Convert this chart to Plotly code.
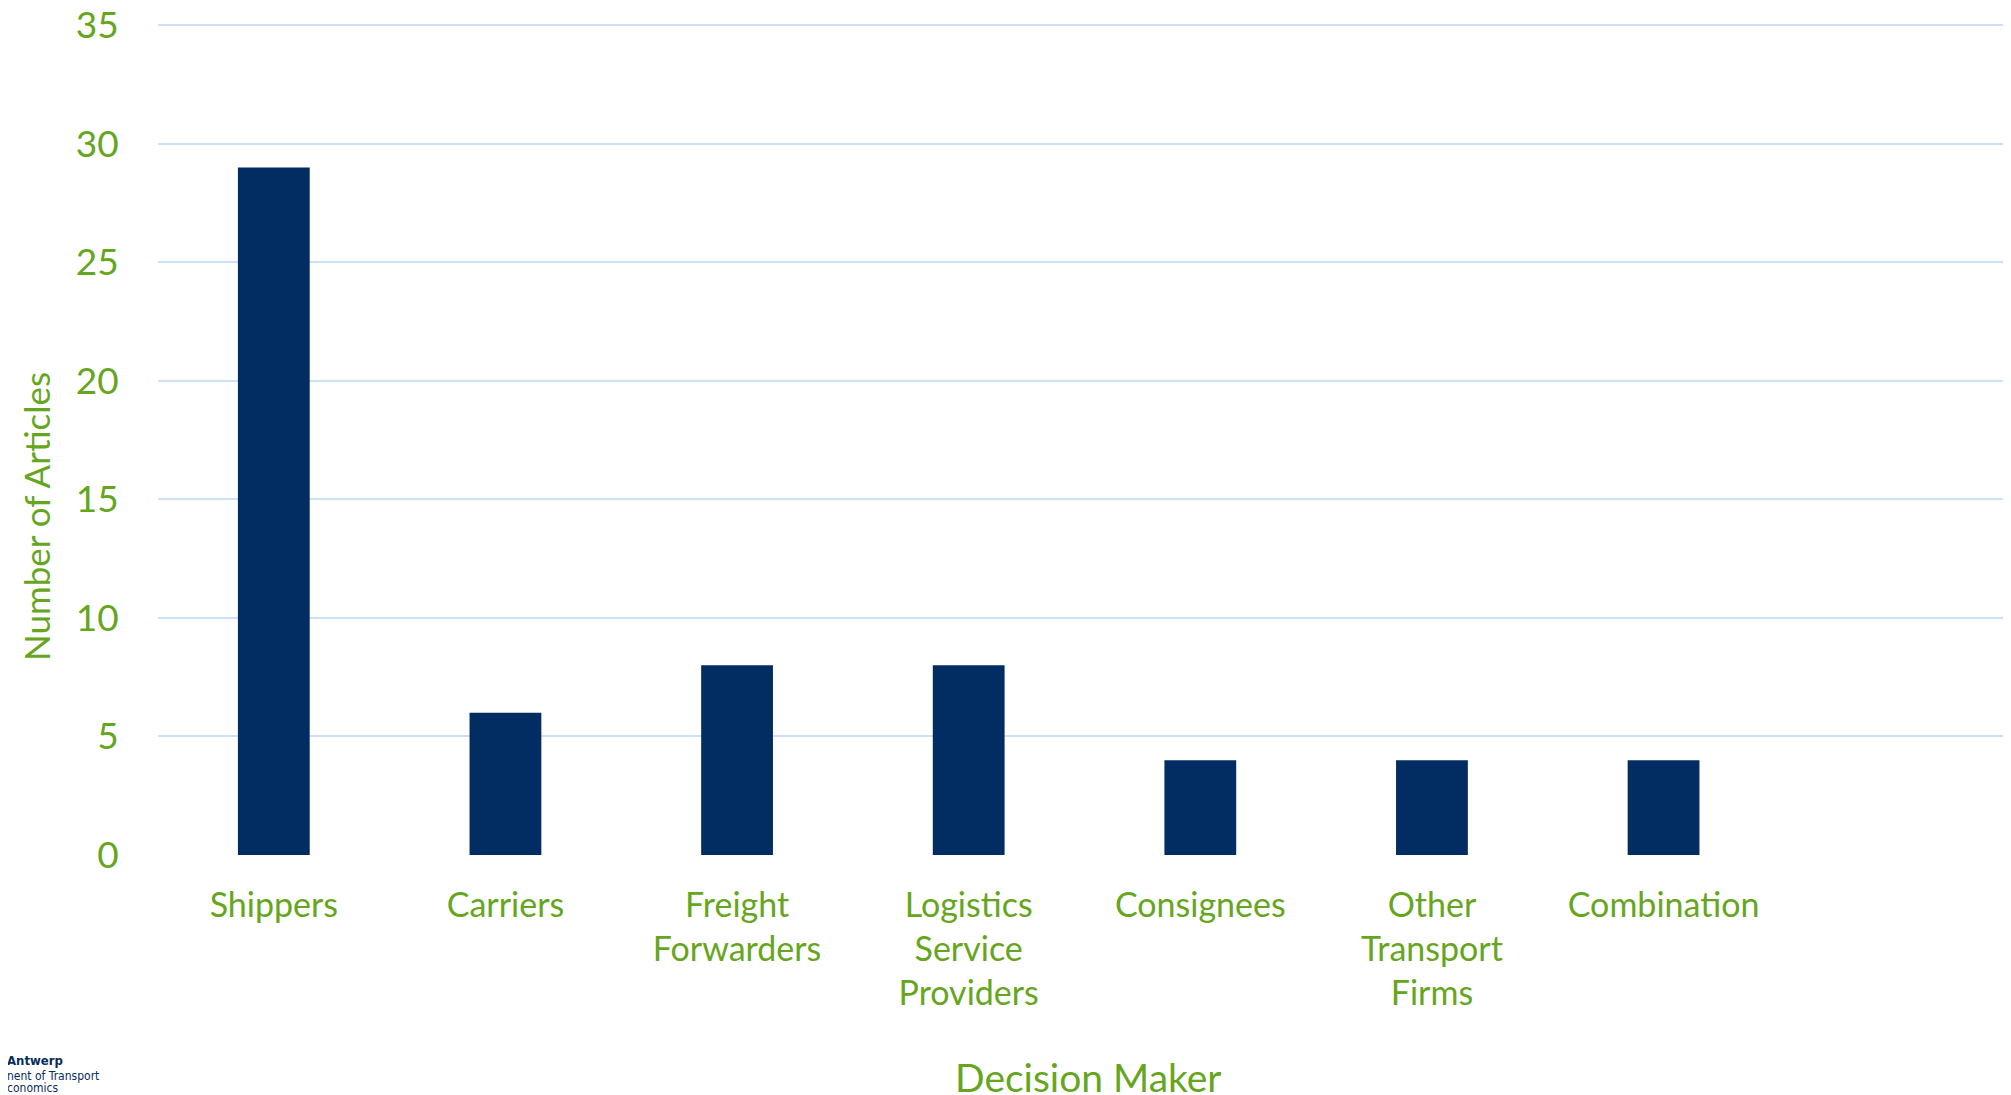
import plotly.graph_objects as go

categories = ["Shippers", "Carriers", "Freight<br>Forwarders", "Logistics<br>Service<br>Providers",
              "Consignees", "Other<br>Transport<br>Firms", "Combination"]
values = [29, 6, 8, 8, 4, 4, 4]
y_ticks = [0, 5, 10, 15, 20, 25, 30, 35]

GREEN = "#66A61E"
BAR = "#022D62"
GRID = "#CCE0F7"
FONT = "Lato"

W, H = 2003, 1087
L, T, B = 150, 10, 240
PW = W - L
PH = H - T - B

fig = go.Figure(go.Bar(x=list(range(len(categories))), y=values, marker_color=BAR, width=0.31,
                       marker_line_width=0))

fig.update_layout(
    width=W, height=H,
    margin=dict(l=L, r=0, t=T, b=B, autoexpand=False),
    plot_bgcolor="white", paper_bgcolor="white",
    showlegend=False,
    font=dict(family=FONT, color=GREEN, size=34),
    xaxis=dict(range=[-0.5, 7.5], tickmode="array", tickvals=list(range(len(categories))),
               ticktext=categories, showgrid=False, zeroline=False, showline=False,
               ticks="outside", ticklen=20, tickcolor="rgba(0,0,0,0)", automargin=False,
               tickfont=dict(size=34, color=GREEN)),
    yaxis=dict(range=[0, 35.3], tickvals=y_ticks, showgrid=True, gridcolor=GRID, gridwidth=2,
               zeroline=False, showline=False, ticks="outside", ticklen=31,
               ticklabeloverflow="allow", automargin=False,
               tickcolor="rgba(0,0,0,0)", tickfont=dict(size=37, color=GREEN)),
)

fig.add_annotation(text="Number of Articles", xref="paper", yref="paper", x=(28 - L) / PW,
                   y=(847 - 509) / PH, textangle=-90, showarrow=False, xanchor="center", yanchor="middle",
                   font=dict(size=35, color=GREEN, family=FONT))
fig.add_annotation(text="Decision Maker", xref="paper", yref="paper", x=(1080 - L) / PW,
                   y=-(1069 - 847) / PH, showarrow=False, xanchor="center", yanchor="middle",
                   font=dict(size=39, color=GREEN, family=FONT))

# logo text fragments at bottom-left
LOGO = "DejaVu Sans Condensed"
fig.add_annotation(text="<b>Antwerp</b>", xref="paper", yref="paper", x=-L / PW, y=-(1052 - 847) / PH,
                   showarrow=False, xanchor="left", yanchor="middle", xshift=-3,
                   font=dict(size=13, color="#0A2D5A", family=LOGO))
fig.add_annotation(text="nent of Transport", xref="paper", yref="paper", x=-L / PW, y=-(1068 - 847) / PH,
                   showarrow=False, xanchor="left", yanchor="middle", xshift=-3,
                   font=dict(size=12, color="#0A2D5A", family=LOGO))
fig.add_annotation(text="conomics", xref="paper", yref="paper", x=-L / PW, y=-(1080 - 847) / PH,
                   showarrow=False, xanchor="left", yanchor="middle", xshift=-3,
                   font=dict(size=12, color="#0A2D5A", family=LOGO))

fig.write_html("out.html")
